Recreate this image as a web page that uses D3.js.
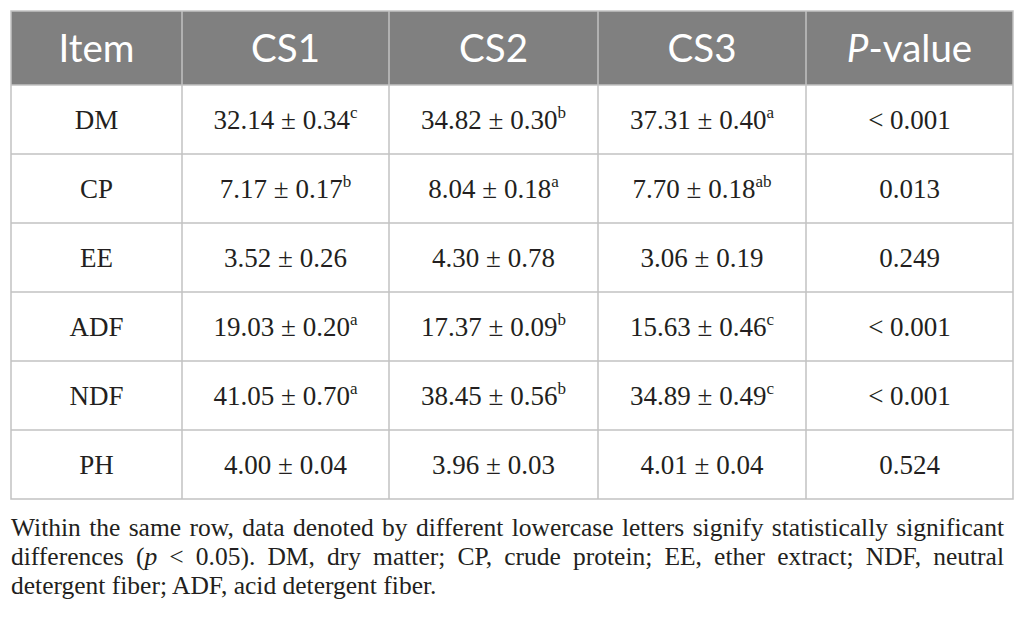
<!DOCTYPE html>
<html>
<head>
<meta charset="utf-8">
<script src="https://cdn.jsdelivr.net/npm/d3@7"></script>
<style>
  html, body { margin: 0; padding: 0; background: #fff; }
  #wrap { position: relative; width: 1026px; height: 624px; overflow: hidden; }
  svg { position: absolute; left: 0; top: 0; }
  #note { position: absolute; left: 11px; width: 993px; top: 513px;
          font-family: "Liberation Serif", "Times New Roman", serif; font-size: 25.5px;
          line-height: 29px; color: #231f20; }
  #note .j { display: block; text-align: justify; text-align-last: justify; white-space: nowrap; }
  #note .l { display: block; text-align: left; white-space: nowrap; }
</style>
</head>
<body>
<div id="wrap">
<svg id="chart" width="1026" height="505"></svg>
<div id="note"></div>
</div>
<script>
// ---- data ----
const headers = ["Item", "CS1", "CS2", "CS3", "P-value"];
const items = ["DM", "CP", "EE", "ADF", "NDF", "PH"];
const cs1Mean = ["32.14", "7.17", "3.52", "19.03", "41.05", "4.00"];
const cs1SE   = ["0.34", "0.17", "0.26", "0.20", "0.70", "0.04"];
const cs1Sig  = ["c", "b", "", "a", "a", ""];
const cs2Mean = ["34.82", "8.04", "4.30", "17.37", "38.45", "3.96"];
const cs2SE   = ["0.30", "0.18", "0.78", "0.09", "0.56", "0.03"];
const cs2Sig  = ["b", "a", "", "b", "b", ""];
const cs3Mean = ["37.31", "7.70", "3.06", "15.63", "34.89", "4.01"];
const cs3SE   = ["0.40", "0.18", "0.19", "0.46", "0.49", "0.04"];
const cs3Sig  = ["a", "ab", "", "c", "c", ""];
const pValues = ["< 0.001", "0.013", "0.249", "< 0.001", "< 0.001", "0.524"];
const noteLines = [
  ["Within the same row, data denoted by different lowercase letters signify statistically significant"],
  ["differences (", {i: "p"}, " < 0.05). DM, dry matter; CP, crude protein; EE, ether extract; NDF, neutral"],
  ["detergent fiber; ADF, acid detergent fiber."]
];

// ---- layout ----
const tLeft = 11, tRight = 1013, tTop = 11, headH = 74, tBottom = 499;
const colW = [171, 207, 209, 208, 207];
const xScale = d3.scaleLinear().domain([0, d3.sum(colW)]).range([tLeft, tRight]);
const cum = [0, ...d3.cumsum(colW)];
const colX0 = i => xScale(cum[i]);
const colX1 = i => xScale(cum[i + 1]);
const y = d3.scaleBand().domain(d3.range(items.length)).range([tTop + headH, tBottom]);

const svg = d3.select("#chart");
const lineColor = "#c2c2c2";

// header background
svg.append("rect").attr("x", tLeft).attr("y", tTop).attr("width", tRight - tLeft).attr("height", headH)
  .attr("fill", "#808080");

// header text
const hdr = svg.append("g");
headers.forEach((h, i) => {
  const t = hdr.append("text")
    .attr("x", (colX0(i) + colX1(i)) / 2)
    .attr("y", 62)
    .attr("text-anchor", "middle")
    .attr("fill", "#fff")
    .attr("font-family", "Lato, 'Open Sans', sans-serif")
    .attr("font-size", 38.5);
  if (h === "P-value") {
    t.append("tspan").attr("font-style", "italic").text("P");
    t.append("tspan").text("-value");
  } else t.text(h);
});

// body rows
const rows = items.map((it, r) => [
  {main: it, sup: ""},
  {main: cs1Mean[r] + " ± " + cs1SE[r], sup: cs1Sig[r]},
  {main: cs2Mean[r] + " ± " + cs2SE[r], sup: cs2Sig[r]},
  {main: cs3Mean[r] + " ± " + cs3SE[r], sup: cs3Sig[r]},
  {main: pValues[r], sup: ""}
]);

const body = svg.append("g")
  .attr("font-family", "'Liberation Serif', 'Times New Roman', serif")
  .attr("fill", "#231f20");
rows.forEach((cells, r) => {
  cells.forEach((c, i) => {
    const t = body.append("text")
      .attr("x", (colX0(i) + colX1(i)) / 2)
      .attr("y", y(r) + y.bandwidth() / 2 + 9)
      .attr("text-anchor", "middle")
      .attr("font-size", 27);
    t.append("tspan").text(c.main);
    if (c.sup) t.append("tspan").attr("font-size", 17).attr("dy", -11).text(c.sup);
  });
});

// grid lines
const g = svg.append("g").attr("stroke", lineColor).attr("stroke-width", 1.5).attr("fill", "none");
d3.range(1, items.length).forEach(r => {
  g.append("line").attr("x1", tLeft).attr("x2", tRight).attr("y1", y(r)).attr("y2", y(r));
});
g.append("line").attr("x1", tLeft).attr("x2", tRight).attr("y1", tTop + headH).attr("y2", tTop + headH);
d3.range(1, headers.length).forEach(i => {
  g.append("line").attr("x1", colX0(i)).attr("x2", colX0(i)).attr("y1", tTop).attr("y2", tBottom);
});
g.append("rect").attr("x", tLeft).attr("y", tTop).attr("width", tRight - tLeft).attr("height", tBottom - tTop);

// footnote
const note = d3.select("#note");
noteLines.forEach((parts, k) => {
  const s = note.append("span").attr("class", k < noteLines.length - 1 ? "j" : "l");
  parts.forEach(p => {
    if (typeof p === "string") s.append("span").text(p);
    else s.append("i").text(p.i);
  });
});
</script>
</body>
</html>
